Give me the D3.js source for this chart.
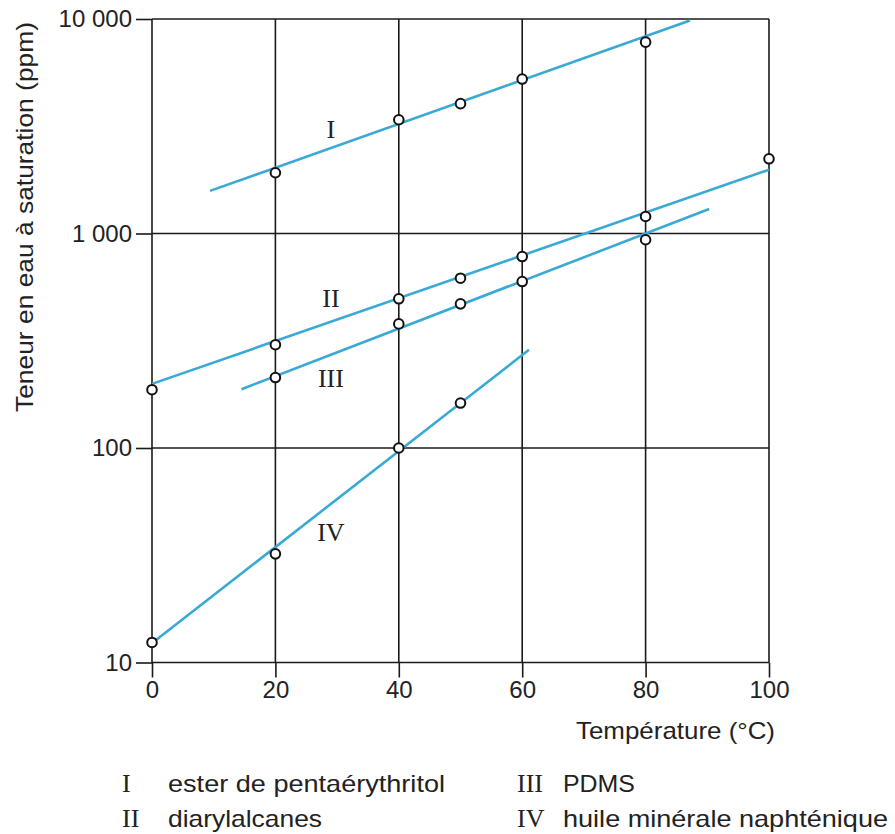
<!DOCTYPE html>
<html>
<head>
<meta charset="utf-8">
<script src="https://cdn.jsdelivr.net/npm/d3@7"></script>
<style>
  html, body { margin: 0; padding: 0; background: #fff; }
  svg { display: block; }
  text { font-family: "Liberation Sans", Arial, Helvetica, sans-serif; fill: #222; }
  .roman { font-family: "Liberation Serif", "Times New Roman", serif; }
</style>
</head>
<body>
<svg id="chart" width="895" height="834"></svg>
<script>
// ---- data ----
const xTicks = [0, 20, 40, 60, 80, 100];
const yTicks = [10, 100, 1000, 10000];
const yTickLabels = ["10", "100", "1 000", "10 000"];

const seriesNames = ["I", "II", "III", "IV"];
const seriesLabels = ["ester de pentaérythritol", "diarylalcanes", "PDMS", "huile minérale naphténique"];

// measured points (temperature °C, ppm)
const tempI = [20, 40, 50, 60, 80];
const valI  = [1920, 3390, 4030, 5250, 7800];
const tempII = [0, 20, 40, 50, 60, 80, 100];
const valII  = [187, 303, 496, 619, 781, 1200, 2230];
const tempIII = [20, 40, 50, 60, 80];
const valIII  = [213, 379, 470, 597, 935];
const tempIV = [0, 20, 40, 50];
const valIV  = [12.4, 32.1, 100, 162];

// fitted lines: [start, end] as [temperature, ppm]
const fitI   = [[9.4, 1580], [87.2, 9850]];
const fitII  = [[0, 199], [100, 1983]];
const fitIII = [[14.5, 188], [90.3, 1300]];
const fitIV  = [[0.6, 12.7], [61.1, 287]];

// curve labels placement (temperature, ppm)
const curveLabelPos = [[29, 3070], [29, 500], [29, 212], [29, 40.5]];

// ---- drawing ----
const svg = d3.select("#chart");
const x = d3.scaleLinear().domain([0, 100]).range([152, 769]);
const y = d3.scaleLog().domain([10, 10000]).range([662.5, 19]);

const gridColor = "#1a1a1a";
const lineColor = "#3aa9d6";

// grid: vertical
svg.append("g").selectAll("line").data(xTicks).join("line")
  .attr("x1", d => x(d)).attr("x2", d => x(d))
  .attr("y1", y(10000)).attr("y2", y(10))
  .attr("stroke", gridColor).attr("stroke-width", 1.6);
// grid: horizontal
svg.append("g").selectAll("line").data(yTicks).join("line")
  .attr("x1", x(0)).attr("x2", x(100))
  .attr("y1", d => y(d)).attr("y2", d => y(d))
  .attr("stroke", gridColor).attr("stroke-width", 1.6);

// axes (ticks + labels) via d3 axes
const yAxis = d3.axisLeft(y).tickValues(yTicks)
  .tickFormat((d, i) => yTickLabels[i]).tickSize(16).tickPadding(4);
const gy = svg.append("g").attr("transform", `translate(${x(0)},0)`).call(yAxis);
gy.select(".domain").remove();
gy.selectAll(".tick line").attr("stroke", gridColor).attr("stroke-width", 1.6);
gy.selectAll(".tick text").attr("font-size", 24).attr("fill", "#222")
  .attr("font-family", "Liberation Sans, Arial, sans-serif");

const xAxis = d3.axisBottom(x).tickValues(xTicks).tickSize(15).tickPadding(3);
const gx = svg.append("g").attr("transform", `translate(0,${y(10)})`).call(xAxis);
gx.select(".domain").remove();
gx.selectAll(".tick line").attr("stroke", gridColor).attr("stroke-width", 1.6);
gx.selectAll(".tick text").attr("font-size", 24).attr("fill", "#222")
  .attr("font-family", "Liberation Sans, Arial, sans-serif");

// axis titles
svg.append("text")
  .attr("transform", "translate(33,217) rotate(-90)")
  .attr("text-anchor", "middle")
  .attr("font-size", 24)
  .attr("textLength", 390).attr("lengthAdjust", "spacingAndGlyphs")
  .text("Teneur en eau à saturation (ppm)");

svg.append("text")
  .attr("x", 576).attr("y", 739)
  .attr("font-size", 24)
  .attr("textLength", 199).attr("lengthAdjust", "spacingAndGlyphs")
  .text("Température (°C)");

// fitted lines
const fits = [fitI, fitII, fitIII, fitIV];
const lineGen = d3.line().x(d => x(d[0])).y(d => y(d[1]));
svg.append("g").selectAll("path").data(fits).join("path")
  .attr("d", lineGen)
  .attr("fill", "none").attr("stroke", lineColor).attr("stroke-width", 2.6);

// points
const pts = [];
[[tempI, valI], [tempII, valII], [tempIII, valIII], [tempIV, valIV]].forEach(([t, v]) => {
  t.forEach((tt, i) => pts.push([tt, v[i]]));
});
svg.append("g").selectAll("circle").data(pts).join("circle")
  .attr("cx", d => x(d[0])).attr("cy", d => y(d[1])).attr("r", 4.8)
  .attr("fill", "#fff").attr("stroke", "#111").attr("stroke-width", 2);

// curve labels
svg.append("g").selectAll("text").data(seriesNames).join("text")
  .attr("class", "roman")
  .attr("x", (d, i) => x(curveLabelPos[i][0]))
  .attr("y", (d, i) => y(curveLabelPos[i][1]))
  .attr("text-anchor", "middle").attr("dy", "0.35em")
  .attr("font-size", 26)
  .text(d => d);

// legend
const legendCols = [[122, 168], [122, 168], [517, 563], [517, 563]];
const legendRows = [792, 827, 792, 827];
const legendWidths = [277, 154, 72, 325];
const lg = svg.append("g");
seriesNames.forEach((n, i) => {
  lg.append("text").attr("class", "roman")
    .attr("x", legendCols[i][0]).attr("y", legendRows[i])
    .attr("font-size", 26).text(n);
  lg.append("text")
    .attr("x", legendCols[i][1]).attr("y", legendRows[i])
    .attr("font-size", 24)
    .attr("textLength", legendWidths[i]).attr("lengthAdjust", "spacingAndGlyphs")
    .text(seriesLabels[i]);
});
</script>
</body>
</html>
